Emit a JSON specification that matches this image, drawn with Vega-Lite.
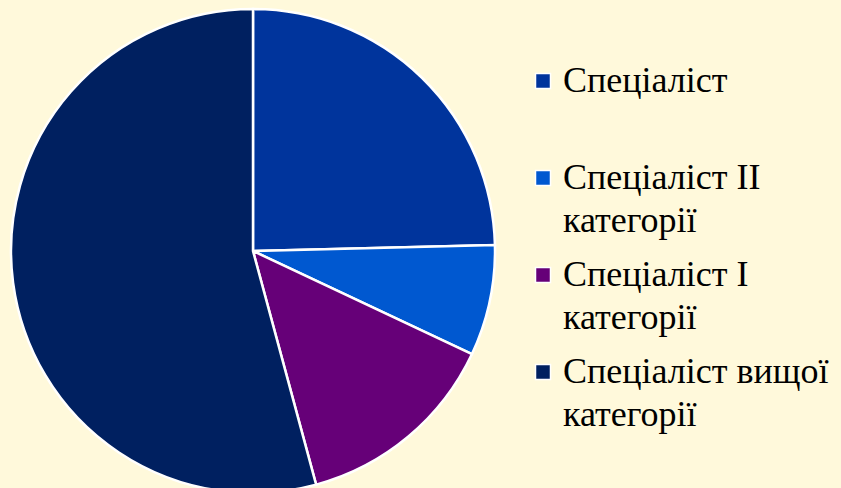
{
  "$schema": "https://vega.github.io/schema/vega-lite/v6.json",
  "width": 506,
  "height": 502,
  "autosize": {"type": "none"},
  "padding": {"left": 0, "top": 0, "right": 335, "bottom": 0},
  "background": "#FFF9DB",
  "config": {"view": {"stroke": null}, "font": "'Liberation Serif', 'Times New Roman', 'DejaVu Serif', serif"},
  "data": {
    "values": [
      {"category": "Спеціаліст", "share": 24.6, "order": 1},
      {"category": "Спеціаліст II категорії", "share": 7.4, "order": 2},
      {"category": "Спеціаліст I категорії", "share": 13.8, "order": 3},
      {"category": "Спеціаліст вищої категорії", "share": 54.2, "order": 4}
    ]
  },
  "mark": {"type": "arc", "radius": 242, "stroke": "white", "strokeWidth": 2.5},
  "encoding": {
    "theta": {"field": "share", "type": "quantitative", "stack": true},
    "order": {"field": "order", "type": "quantitative"},
    "color": {
      "field": "category",
      "type": "nominal",
      "scale": {
        "domain": ["Спеціаліст", "Спеціаліст II категорії", "Спеціаліст I категорії", "Спеціаліст вищої категорії"],
        "range": ["#00349C", "#0058D0", "#660078", "#002060"]
      },
      "legend": {
        "title": null,
        "orient": "none",
        "legendX": 525,
        "legendY": 63,
        "symbolType": "square",
        "symbolSize": 225,
        "symbolStrokeColor": "white",
        "symbolStrokeWidth": 1.5,
        "symbolOpacity": 1,
        "labelFont": "'Liberation Serif', 'Times New Roman', 'DejaVu Serif', serif",
        "labelFontSize": 36,
        "labelColor": "black",
        "labelLimit": 400,
        "labelOffset": 2,
        "gridAlign": "all",
        "rowPadding": 18,
        "labelExpr": "datum.label === 'Спеціаліст' ? datum.label : [replace(datum.label, ' категорії', ''), 'категорії']",
        "encode": {"labels": {"update": {"lineHeight": {"value": 43}}}}
      }
    }
  }
}
